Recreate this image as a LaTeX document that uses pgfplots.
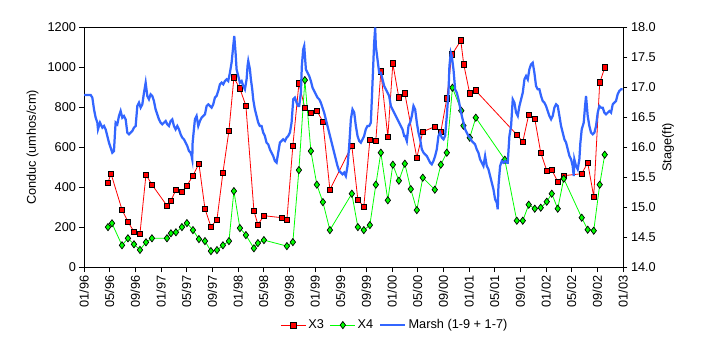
\documentclass[border=0pt]{standalone}
\usepackage{pgfplots}
\pgfplotsset{compat=1.18}
\usepackage{pgfplotstable}
\usepackage{fontspec}
\setmainfont{Liberation Sans}
\definecolor{xred}{RGB}{255,0,0}
\definecolor{xgreen}{RGB}{0,255,0}
\definecolor{marsh}{RGB}{51,102,255}

\pgfplotstableread{
m v
3.74 424
4.21 469
5.92 289
6.85 229
7.79 179
8.72 169
9.66 464
10.59 414
12.93 309
13.55 334
14.33 389
15.26 379
16.04 409
16.98 459
17.91 519
18.85 294
19.78 204
20.72 239
21.65 474
22.59 684
23.36 949
24.30 894
25.23 809
26.48 284
27.10 214
28.04 259
30.84 249
31.62 239
32.55 609
33.49 919
34.42 799
35.36 774
36.29 784
37.23 729
38.32 389
41.74 609
42.68 339
43.61 304
44.55 639
45.48 634
46.26 979
47.35 654
48.13 1019
49.07 849
50.00 871
51.87 549
52.80 679
54.67 704
55.61 679
56.54 844
57.32 1064
58.72 1134
59.19 1014
60.12 869
61.06 884
67.45 664
68.38 629
69.31 764
70.25 744
71.18 574
72.12 484
72.90 489
73.83 429
74.77 459
77.57 469
78.50 524
79.44 354
80.37 924
81.15 999
}\xthree

\pgfplotstableread{
m v
3.74 202
4.36 221
5.92 111
6.85 146
7.79 116
8.72 88
9.66 126
10.59 146
12.93 146
13.55 171
14.33 176
15.26 202
16.04 222
16.98 187
17.91 142
18.85 132
19.78 82
20.72 87
21.65 111
22.59 132
23.36 382
24.30 197
25.23 162
26.48 96
27.10 122
28.04 137
31.62 107
32.55 127
33.49 487
34.42 937
35.36 582
36.29 414
37.23 327
38.32 187
41.74 369
42.68 202
43.61 187
44.55 212
45.48 414
46.26 574
47.35 336
48.13 514
49.07 434
50.00 519
50.93 392
51.87 287
52.80 449
54.67 389
55.61 514
56.54 574
57.42 899
58.80 784
59.13 709
60.12 649
61.06 749
65.58 539
67.45 234
68.38 234
69.31 314
70.25 294
71.18 299
72.12 329
72.90 369
73.83 294
74.77 444
77.57 249
78.50 189
79.44 184
80.37 414
81.15 564
}\xfour

\pgfplotstableread{
m s
0.00 16.875
1.04 16.875
1.30 16.831
1.56 16.636
1.82 16.497
2.08 16.414
2.18 16.303
2.49 16.414
2.86 16.331
3.12 16.358
3.37 16.303
3.63 16.192
3.89 16.081
4.15 15.997
4.41 15.914
4.67 15.942
4.83 16.247
4.93 16.414
5.19 16.386
5.45 16.525
5.71 16.608
5.97 16.497
6.23 16.525
6.49 16.469
6.75 16.247
7.01 16.219
7.27 16.247
7.53 16.275
7.79 16.331
8.05 16.358
8.31 16.692
8.57 16.747
8.83 16.664
9.09 16.719
9.35 16.914
9.61 17.081
9.87 16.858
10.12 16.803
10.38 16.886
10.64 16.858
10.90 16.775
11.16 16.636
11.42 16.553
11.68 16.469
11.94 16.414
12.20 16.386
12.46 16.414
12.72 16.442
12.98 16.386
13.24 16.358
13.50 16.442
13.76 16.469
14.02 16.358
14.28 16.303
14.54 16.358
14.80 16.303
15.06 16.219
15.32 16.164
15.58 16.136
15.84 16.081
16.10 16.025
16.36 15.942
16.61 15.914
16.77 15.858
16.87 15.803
16.93 16.081
17.13 16.303
17.29 16.469
17.55 16.525
17.81 16.358
18.07 16.442
18.33 16.497
18.59 16.525
18.85 16.553
19.11 16.692
19.37 16.719
19.63 16.692
19.88 16.664
20.14 16.719
20.40 16.831
20.66 16.858
20.92 16.942
21.18 17.053
21.44 17.081
21.70 17.053
21.96 17.108
22.22 17.136
22.48 17.108
22.74 17.247
23.00 17.414
23.16 17.581
23.26 17.692
23.42 17.858
23.62 17.581
23.78 17.303
24.04 17.192
24.30 17.081
24.56 17.108
24.82 17.025
25.08 16.969
25.34 17.136
25.49 17.358
25.60 17.442
25.86 17.303
26.01 17.136
26.22 16.969
26.37 16.803
26.63 16.636
26.89 16.525
27.15 16.414
27.41 16.358
27.67 16.358
27.93 16.247
28.19 16.192
28.45 16.081
28.71 16.053
28.97 15.969
29.23 15.914
29.49 15.858
29.75 15.775
30.01 15.747
30.27 15.914
30.53 16.081
30.79 16.108
31.05 16.136
31.31 16.108
31.57 16.164
31.83 16.192
32.09 16.247
32.35 16.414
32.61 16.803
32.87 16.831
33.13 16.747
33.38 16.692
33.54 16.692
33.80 16.914
33.95 17.358
34.16 17.636
34.32 17.692
34.47 17.469
34.58 17.303
34.84 17.247
35.10 17.192
35.36 17.108
35.62 16.997
35.88 16.942
36.14 16.886
36.40 16.831
36.65 16.803
36.91 16.747
37.17 16.664
37.43 16.581
37.69 16.469
37.95 16.358
38.21 16.247
38.47 16.136
38.73 16.025
38.99 15.914
39.25 15.803
39.51 15.692
39.77 15.608
40.03 15.581
40.29 15.553
40.55 15.581
40.81 15.525
41.07 15.692
41.33 16.025
41.59 16.469
41.85 16.636
42.11 16.581
42.37 16.358
42.63 16.192
42.89 16.108
43.14 16.081
43.40 16.136
43.66 16.192
43.92 16.303
44.18 16.358
44.44 16.358
44.70 16.414
44.86 16.803
45.07 17.358
45.22 17.747
45.38 18.000
45.48 17.692
45.74 17.469
46.00 17.247
46.26 17.247
46.52 17.136
46.78 17.025
47.04 16.969
47.30 16.914
47.56 16.858
47.82 16.692
48.08 16.636
48.34 16.581
48.60 16.525
48.86 16.469
49.12 16.414
49.38 16.358
49.64 16.303
49.90 16.192
50.05 16.192
50.31 16.108
50.57 16.358
50.83 16.414
51.09 16.525
51.35 16.692
51.61 16.636
51.87 16.414
52.13 16.247
52.39 16.136
52.65 15.969
52.91 15.914
53.16 15.886
53.42 15.858
53.68 15.803
53.94 15.747
54.20 15.719
54.46 15.775
54.72 15.858
54.98 15.969
55.24 16.192
55.50 16.247
55.76 16.164
56.02 16.136
56.28 16.192
56.54 16.525
56.80 16.914
56.95 17.358
57.16 17.581
57.32 17.525
57.58 17.303
57.84 16.969
58.10 16.914
58.36 16.803
58.62 16.664
58.88 16.525
59.14 16.414
59.40 16.303
59.65 16.247
59.91 16.192
60.17 16.164
60.43 16.108
60.69 16.081
60.95 16.053
61.21 15.969
61.47 15.914
61.73 15.803
61.99 15.747
62.25 15.692
62.51 15.858
62.77 15.692
63.03 15.636
63.29 15.525
63.55 15.414
63.81 15.303
64.07 15.136
64.33 15.081
64.48 14.969
64.59 15.358
64.85 15.692
65.11 15.775
65.37 15.747
65.63 15.775
65.89 15.747
66.04 15.747
66.30 16.192
66.56 16.358
66.82 16.803
67.08 16.747
67.34 16.581
67.60 16.525
67.86 16.692
68.12 16.803
68.38 16.914
68.64 17.136
68.90 17.192
69.16 17.136
69.41 17.303
69.67 17.386
69.93 17.414
70.19 17.247
70.45 17.025
70.71 16.969
70.97 16.969
71.23 16.858
71.49 16.775
71.75 16.747
72.01 16.692
72.27 16.608
72.53 16.525
72.79 16.469
73.05 16.525
73.31 16.664
73.57 16.719
73.83 16.692
74.09 16.525
74.35 16.358
74.61 16.247
74.87 16.136
75.13 16.081
75.39 15.969
75.65 15.858
75.91 15.803
76.16 15.692
76.32 15.525
76.42 15.803
76.68 15.692
76.94 15.636
77.20 15.803
77.36 16.081
77.57 16.303
77.88 16.414
78.09 16.692
78.24 16.858
78.50 16.525
78.76 16.358
79.02 16.247
79.28 16.219
79.54 16.247
79.80 16.358
80.06 16.581
80.32 16.692
80.58 16.664
80.84 16.664
81.10 16.581
81.36 16.553
81.62 16.581
81.88 16.608
82.14 16.581
82.40 16.719
82.66 16.747
82.91 16.775
83.17 16.886
83.43 16.942
83.69 16.969
83.95 16.969
}\marshtab

\begin{document}
\begin{tikzpicture}
\pgfplotsset{
  base/.style={scale only axis, width=539bp, height=240bp, xmin=0, xmax=84,
    tick align=outside, major tick length=4.5bp,
    tick label style={font=\fontsize{12.8}{15}\selectfont},
    label style={font=\fontsize{12.8}{15}\selectfont},
    /pgf/number format/assume math mode=true,
    axis line style={line width=0.8pt},
    every tick/.style={black, line width=0.8pt}},
}
\begin{axis}[base,
  ymin=0, ymax=1200, ytick={0,200,...,1200},
  ytick pos=left, xtick pos=lower,
  xtick={0,4,...,84},
  xticklabels={01/96,05/96,09/96,01/97,05/97,09/97,01/98,05/98,09/98,01/99,05/99,09/99,01/00,05/00,09/00,01/01,05/01,09/01,01/02,05/02,09/02,01/03},
  xticklabel style={rotate=90, anchor=east},
  yticklabel style={/pgf/number format/1000 sep={}},
  ylabel={Conduc (umhos/cm)},
  ylabel style={at={(axis description cs:-0.0955,0.5)}, anchor=center},
  legend columns=3,
  legend style={at={(0.577,-0.24)}, anchor=center, draw=none,
    font=\fontsize{12.8}{15}\selectfont,
    /tikz/every even column/.append style={column sep=4bp}},
  legend image code/.code={\draw[mark repeat=2,mark phase=2] plot coordinates {(0bp,0bp) (12.5bp,0bp) (25bp,0bp)};},
]
\addplot[xred, line width=0.8pt, mark=square*, mark size=2.8bp,
  mark options={fill=xred, draw=black, line width=0.8pt, solid}] table[x=m, y=v] {\xthree};
\addlegendentry{X3}
\addplot[xgreen, line width=0.8pt, mark=diamond*, mark size=3.6bp,
  mark options={fill=xgreen, draw=black, line width=0.7pt, solid}] table[x=m, y=v] {\xfour};
\addlegendentry{X4}
\addlegendimage{marsh, line width=2.25pt}
\addlegendentry{Marsh (1-9 + 1-7)}
\end{axis}
\begin{axis}[base,
  ymin=14, ymax=18, ytick={14,14.5,...,18},
  axis y line*=right, axis x line=none,
  yticklabel style={/pgf/number format/.cd, fixed, fixed zerofill, precision=1},
  ylabel={Stage(ft)},
  ylabel style={at={(axis description cs:1.0835,0.5)}, anchor=center},
]
\addplot[marsh, line width=2.25pt, no markers] table[x=m, y=s] {\marshtab};
\end{axis}
\pgfresetboundingbox
\path[use as bounding box] (-84bp,-83.5bp) rectangle (621bp,267.5bp);
\end{tikzpicture}
\end{document}
